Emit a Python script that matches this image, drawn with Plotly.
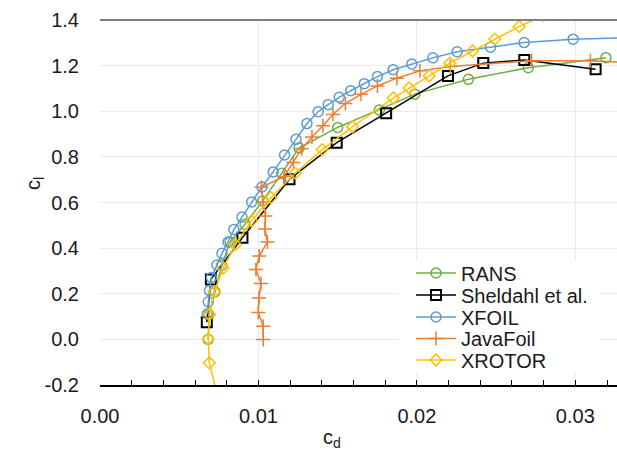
import plotly.graph_objects as go

# ---- data ----
rans_cd = [0.00683, 0.00688, 0.00726, 0.00769, 0.00821, 0.00915, 0.01027, 0.01147, 0.01256,
           0.01500, 0.01763, 0.01987, 0.02325, 0.02703, 0.03193]
rans_cl = [0.0, 0.109, 0.209, 0.326, 0.427, 0.505, 0.607, 0.728, 0.839,
           0.929, 1.006, 1.075, 1.140, 1.191, 1.235]

sheldahl_cd = [0.00674, 0.00700, 0.00899, 0.01196, 0.01494, 0.01806, 0.02196, 0.02419, 0.02678, 0.03128]
sheldahl_cl = [0.075, 0.263, 0.446, 0.702, 0.862, 0.991, 1.155, 1.211, 1.225, 1.184]

xfoil_cd = [0.00677, 0.00683, 0.00691, 0.00703, 0.00738, 0.00770, 0.00808, 0.00845, 0.00896,
            0.00957, 0.01022, 0.01093, 0.01165, 0.01237, 0.01306, 0.01377, 0.01440, 0.01510,
            0.01582, 0.01668, 0.01751, 0.01850, 0.01968, 0.02101, 0.02254, 0.02465, 0.02677,
            0.02986, 0.03450]
xfoil_cl = [0.111, 0.165, 0.214, 0.271, 0.326, 0.377, 0.427, 0.482, 0.536,
            0.602, 0.668, 0.734, 0.808, 0.877, 0.946, 0.998, 1.029, 1.061,
            1.090, 1.121, 1.152, 1.182, 1.207, 1.234, 1.261, 1.281, 1.301,
            1.316, 1.325]

javafoil_cd = [0.01030, 0.01030, 0.00999, 0.01003, 0.01016, 0.00984, 0.01005, 0.01057, 0.01041,
               0.01044, 0.01028, 0.01019, 0.01163, 0.01220, 0.01273, 0.01338, 0.01407, 0.01470,
               0.01549, 0.01647, 0.01751, 0.01874, 0.02019, 0.02211, 0.02724, 0.03095, 0.03400]
javafoil_cl = [0.0, 0.058, 0.118, 0.181, 0.245, 0.306, 0.365, 0.427, 0.484,
               0.541, 0.602, 0.667, 0.714, 0.775, 0.836, 0.887, 0.936, 0.986,
               1.034, 1.074, 1.111, 1.145, 1.177, 1.196, 1.221, 1.221, 1.212]

xrotor_cd = [0.00744, 0.00690, 0.00683, 0.00691, 0.00721, 0.00778, 0.00855, 0.00957, 0.01079,
             0.01233, 0.01403, 0.01594, 0.01851, 0.01951, 0.02078, 0.02208, 0.02351, 0.02492,
             0.02645, 0.02800]
xrotor_cl = [-0.25, -0.103, 0.002, 0.109, 0.209, 0.313, 0.416, 0.520, 0.621,
             0.729, 0.832, 0.932, 1.058, 1.102, 1.155, 1.211, 1.264, 1.316,
             1.371, 1.420]

x_tickvals = [0.0, 0.01, 0.02, 0.03]
x_ticktext = ["0.00", "0.01", "0.02", "0.03"]
y_tickvals = [-0.2, 0.0, 0.2, 0.4, 0.6, 0.8, 1.0, 1.2, 1.4]
y_ticktext = ["-0.2", "0.0", "0.2", "0.4", "0.6", "0.8", "1.0", "1.2", "1.4"]

FONT = "Liberation Sans, Arial, sans-serif"
FS = 20
TXT = "#1a1a1a"

# plot area in pixels
L, R, T, B = 100, 617, 20, 385
PW, PH = R - L, B - T


def px_x(p):
    return (p - L) / PW


def px_y(p):
    return (B - p) / PH


series = [
    ("RANS", rans_cd, rans_cl, "#70AD47", "circle-open", 10, 1.5),
    ("Sheldahl et al.", sheldahl_cd, sheldahl_cl, "#000000", "square-open", 10, 2),
    ("XFOIL", xfoil_cd, xfoil_cl, "#5B9BD5", "circle-open", 10, 1.5),
    ("JavaFoil", javafoil_cd, javafoil_cl, "#ED7D31", "cross-thin", 10, 1.5),
    ("XROTOR", xrotor_cd, xrotor_cl, "#FFC000", "diamond-open", 9, 1.5),
]
legend_rows = [273, 295, 317, 338.5, 360]

fig = go.Figure()
layout_legends = {}
for i, (name, xs, ys, col, sym, sz, lw) in enumerate(series):
    lg = "legend" if i == 0 else f"legend{i + 1}"
    fig.add_trace(go.Scatter(x=xs, y=ys, name=name, mode="lines+markers",
                             legend=lg,
                             line=dict(color=col, width=1.5),
                             marker=dict(symbol=sym, size=sz, color=col,
                                         line=dict(width=lw, color=col))))
    layout_legends[lg] = dict(x=px_x(411), y=px_y(legend_rows[i]),
                              xanchor="left", yanchor="middle",
                              bgcolor="rgba(0,0,0,0)", borderwidth=0,
                              font=dict(family=FONT, size=FS, color=TXT),
                              itemwidth=40)

fig.update_layout(
    width=617, height=452,
    margin=dict(l=L, r=617 - R, t=T, b=452 - B),
    paper_bgcolor="white", plot_bgcolor="white",
    font=dict(family=FONT, size=FS, color=TXT),
    showlegend=True,
    xaxis=dict(range=[0, 0.03263], tickvals=x_tickvals, ticktext=x_ticktext,
               showgrid=True, gridcolor="#EBEBEB", gridwidth=1, zeroline=False,
               showline=True, linecolor="#000000", linewidth=1.5,
               ticks="inside", ticklen=5, tickcolor="#000000", tickwidth=1,
               minor=dict(dtick=0.002, tick0=0, ticks="inside", ticklen=5,
                          tickcolor="#000000", tickwidth=1, showgrid=False),
               tickfont=dict(size=FS), ticklabelstandoff=12),
    yaxis=dict(range=[-0.2, 1.4], tickvals=y_tickvals, ticktext=y_ticktext,
               showgrid=True, gridcolor="#EBEBEB", gridwidth=1, zeroline=False,
               showline=False, ticks="", tickfont=dict(size=FS), ticklabelstandoff=20),
    shapes=[
        dict(type="line", xref="paper", yref="paper", x0=0, x1=1, y0=1, y1=1,
             line=dict(color="#7F7F7F", width=2)),
        # white background behind the legend block
        dict(type="rect", xref="paper", yref="paper", layer="above",
             x0=px_x(398), x1=px_x(600), y0=px_y(372), y1=px_y(261),
             fillcolor="white", line=dict(width=0)),
    ],
    annotations=[
        dict(text="c<sub>d</sub>", xref="paper", yref="paper", x=px_x(332),
             y=px_y(424), xanchor="center", yanchor="top", showarrow=False,
             font=dict(size=FS, family=FONT, color=TXT)),
        dict(text="c<sub>l</sub>", xref="paper", yref="paper", x=px_x(34),
             y=px_y(184), xanchor="center", yanchor="middle", textangle=-90,
             showarrow=False, font=dict(size=FS, family=FONT, color=TXT)),
    ],
    **layout_legends,
)

fig.write_html("out.html")
